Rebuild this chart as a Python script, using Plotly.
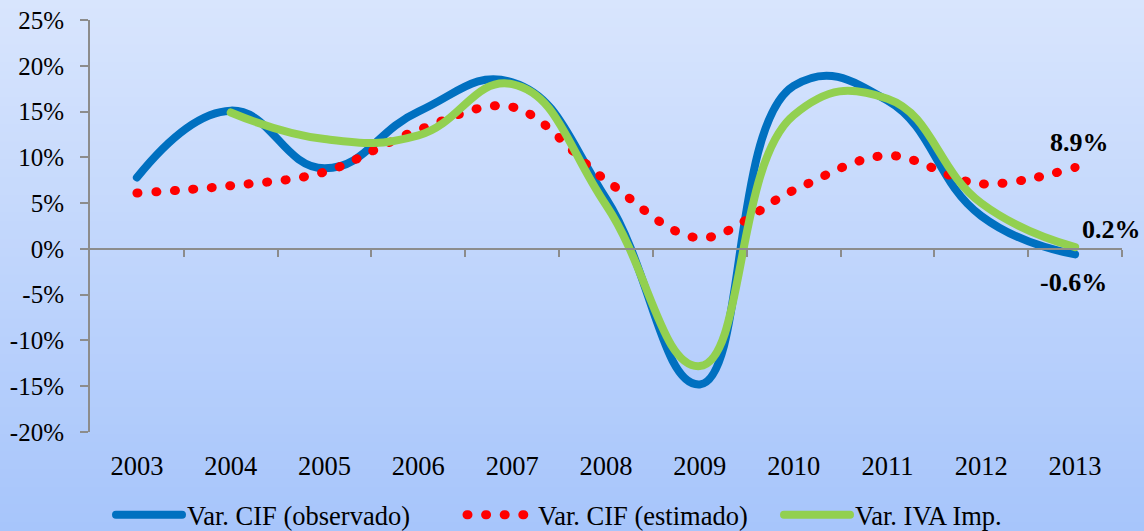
import plotly.graph_objects as go

years = [2003, 2004, 2005, 2006, 2007, 2008, 2009, 2010, 2011, 2012, 2013]
year_labels = [str(y) for y in years]
cif_observado = [7.8, 15.1, 8.8, 15.0, 18.2, 5.5, -14.8, 17.8, 16.2, 3.6, -0.6]
cif_estimado = [6.1, 6.9, 8.4, 13.0, 15.5, 7.5, 1.2, 6.4, 10.2, 7.1, 8.9]
iva_imp = [None, 14.9, 12.0, 12.4, 18.0, 4.8, -12.8, 14.6, 16.4, 5.0, 0.2]
y_ticks = [-20, -15, -10, -5, 0, 5, 10, 15, 20, 25]
y_tick_labels = ["-20%", "-15%", "-10%", "-5%", "0%", "5%", "10%", "15%", "20%", "25%"]
names = ["Var. CIF (observado)", "Var. CIF (estimado)", "Var. IVA Imp."]
end_labels = ["-0.6%", "8.9%", "0.2%"]

FONT = "Liberation Serif"
W, H = 1144, 531
L, R, T, B = 90, 22, 20, 99
plot_h = H - T - B
plot_w = W - L - R
yfont = dict(family=FONT, size=25, color="black")
xfont = dict(family=FONT, size=26.5, color="black")
lfont = dict(family=FONT, size=26.5, color="black")
bfont = dict(family=FONT, size=26, color="black")

fig = go.Figure()
fig.add_trace(go.Scatter(x=years, y=cif_observado, name=names[0], mode="lines", legend="legend",
                         line=dict(color="#0070C0", width=8, shape="spline", smoothing=1.3)))
fig.add_trace(go.Scatter(x=years, y=cif_estimado, name=names[1], mode="lines", legend="legend2",
                         line=dict(color="#FF0000", width=9, shape="spline", smoothing=1.0,
                                   dash="1px,17.6px")))
fig.add_trace(go.Scatter(x=years, y=iva_imp, name=names[2], mode="lines", legend="legend3",
                         line=dict(color="#92D050", width=8, shape="spline", smoothing=1.3)))

# gradient background strips
shapes = []
n = 60
top = (216, 229, 253)
bot = (167, 197, 251)
for i in range(n):
    t = i / (n - 1)
    c = tuple(round(top[k] + (bot[k] - top[k]) * t) for k in range(3))
    py0 = H * i / n
    py1 = H * (i + 1) / n + 1
    shapes.append(dict(type="rect", xref="paper", yref="paper",
                       x0=(0 - L) / plot_w, x1=(W - L) / plot_w,
                       y0=(H - B - py1) / plot_h, y1=(H - B - py0) / plot_h,
                       fillcolor="rgb(%d,%d,%d)" % c, line=dict(width=0), layer="below"))

annotations = [
    dict(x=years[-1], y=cif_observado[-1], text="<b>%s</b>" % end_labels[0], showarrow=False,
         xshift=-2, yshift=-28, font=bfont),
    dict(x=years[-1], y=cif_estimado[-1], text="<b>%s</b>" % end_labels[1], showarrow=False,
         xshift=4, yshift=25, font=bfont),
    dict(x=years[-1], y=iva_imp[-1], text="<b>%s</b>" % end_labels[2], showarrow=False,
         xshift=36, yshift=18, font=bfont),
]

def leg(px):
    return dict(orientation="h", xref="container", yref="paper", x=px / W, xanchor="left",
                y=(H - B - 539) / plot_h, yanchor="bottom", font=lfont, itemwidth=66,
                bgcolor="rgba(0,0,0,0)", borderwidth=0)

fig.update_layout(
    width=W, height=H,
    margin=dict(l=L, r=R, t=T, b=B, pad=0, autoexpand=False),
    paper_bgcolor="rgb(190,212,252)",
    plot_bgcolor="rgba(0,0,0,0)",
    font=yfont,
    shapes=shapes,
    annotations=annotations,
    showlegend=True,
    legend=leg(111), legend2=leg(462), legend3=leg(779),
    xaxis=dict(range=[2002.5, 2013.5], tickvals=years, ticktext=year_labels, tickfont=xfont,
               showgrid=False, zeroline=False, showline=False, ticks="",
               ticklabelstandoff=15, automargin=False),
    xaxis2=dict(range=[2002.5, 2013.5], overlaying="x", anchor="free", position=20 / 45,
                tickvals=[y + 0.5 for y in years], showticklabels=False, ticks="outside",
                ticklen=7, tickwidth=2, tickcolor="#8C8C8C", showline=True, linecolor="#8C8C8C",
                linewidth=2, showgrid=False, zeroline=False, side="bottom", automargin=False),
    yaxis=dict(range=[-20, 25], tickvals=y_ticks, ticktext=y_tick_labels, tickfont=yfont,
               showgrid=False, zeroline=False, showline=True, linecolor="#8C8C8C", linewidth=2,
               ticks="outside", ticklen=8, tickwidth=2, tickcolor="#8C8C8C",
               ticklabelstandoff=11, automargin=False),
)
fig.add_trace(go.Scatter(x=[None], y=[None], xaxis="x2", showlegend=False, hoverinfo="skip"))

post = """
var s=document.createElement('style');
s.innerHTML='html,body{margin:0 !important;padding:0 !important;overflow:hidden;} path.js-line{stroke-linecap:round !important;stroke-linejoin:round !important;}';
document.head.appendChild(s);
"""
fig.write_html("out.html", post_script=post, config={"displayModeBar": False})
